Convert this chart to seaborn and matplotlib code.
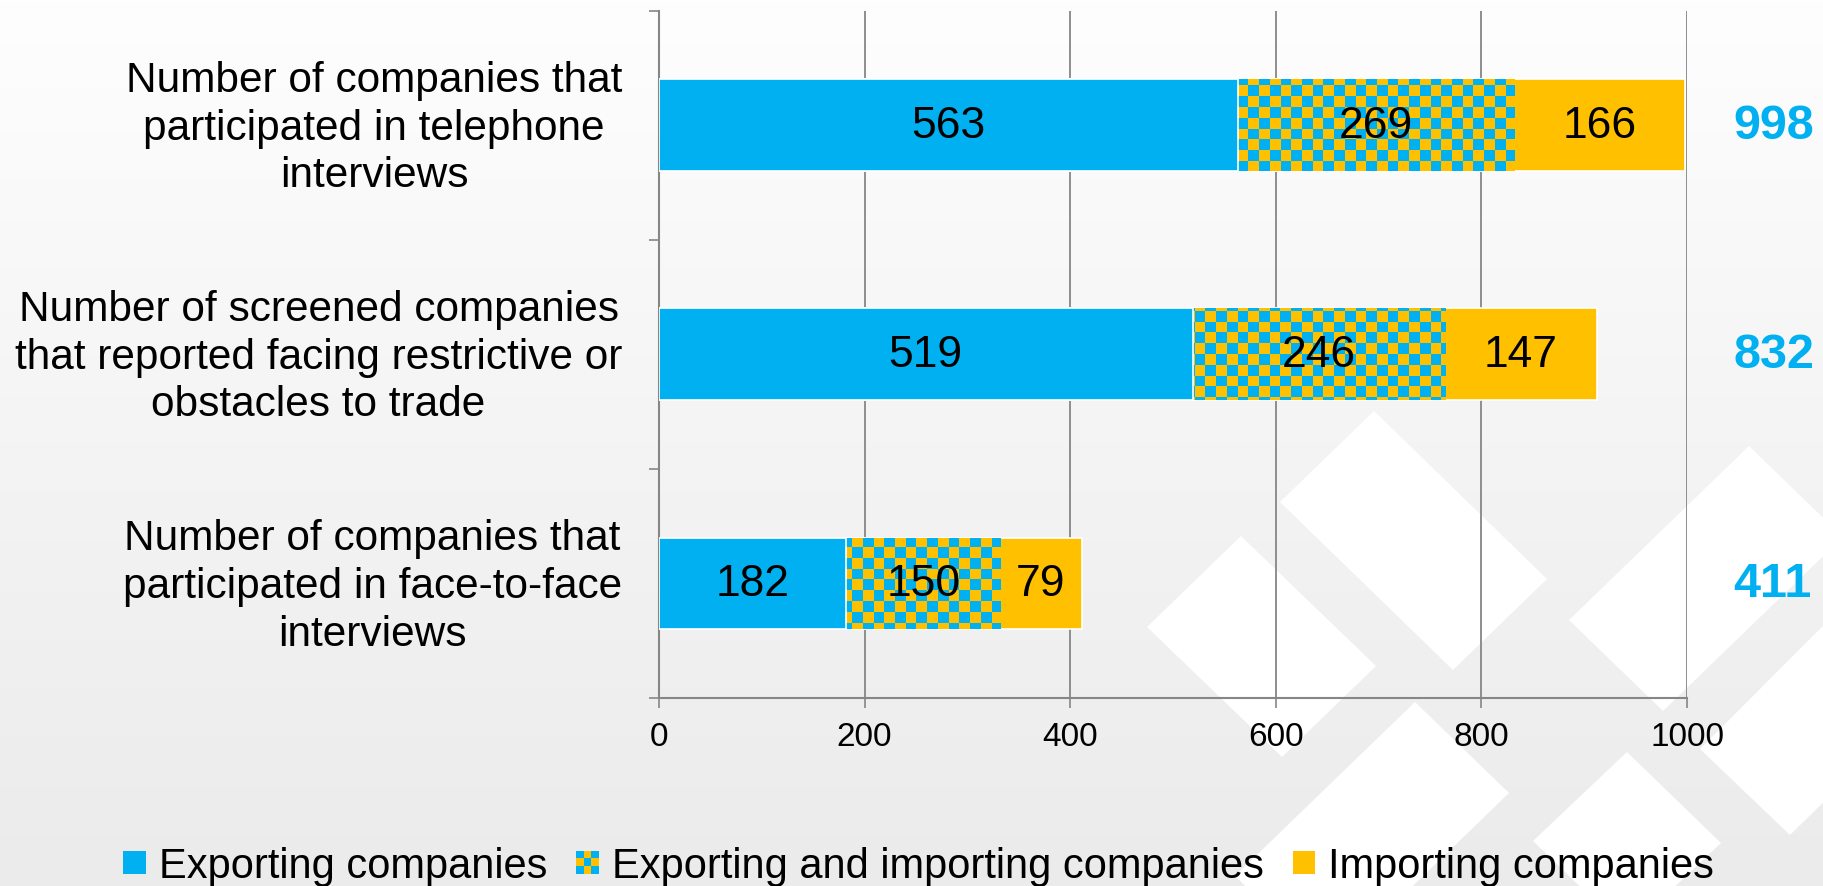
import numpy as np
import pandas as pd
import matplotlib
matplotlib.use("Agg")
import matplotlib.pyplot as plt
import seaborn as sns
from matplotlib import font_manager as fm
from matplotlib.colors import ListedColormap, LinearSegmentedColormap
from matplotlib.patches import Rectangle, Polygon
from matplotlib.legend_handler import HandlerBase
import matplotlib.transforms as mtransforms

# ---------------- data ----------------
categories = [
    "Number of companies that\nparticipated in telephone\ninterviews",
    "Number of screened companies\nthat reported facing restrictive or\nobstacles to trade",
    "Number of companies that\nparticipated in face-to-face\ninterviews",
]
exporting = [563, 519, 182]
exp_imp = [269, 246, 150]
importing = [166, 147, 79]
totals = [998, 832, 411]
series_names = ["Exporting companies", "Exporting and importing companies", "Importing companies"]
x_ticks = [0, 200, 400, 600, 800, 1000]

BLUE = "#00B0F0"
YELLOW = "#FFC000"
GRID = "#868686"

# ---------------- fonts ----------------
sns.set_style("white")
names = {f.name for f in fm.fontManager.ttflist}
REG = "Liberation Sans" if "Liberation Sans" in names else "DejaVu Sans"
NARROW = "Liberation Sans Narrow" if "Liberation Sans Narrow" in names else REG
plt.rcParams["font.family"] = [REG, "DejaVu Sans"]
plt.rcParams["text.color"] = "black"
plt.rcParams["xtick.color"] = "black"
plt.rcParams["ytick.color"] = "black"

W, H = 1823, 887
fig = plt.figure(figsize=(W / 100, H / 100), dpi=100)

# ---------------- background ----------------
bg = fig.add_axes([0, 0, 1, 1], zorder=-10)
grad = np.linspace(0, 1, 256)[:, None]
bg.imshow(grad, extent=(0, W, H, 0), aspect="auto",
          cmap=LinearSegmentedColormap.from_list("g", ["#FEFEFE", "#F4F4F4", "#EBEBEB"]))
shapes = [
    [(1374, 412), (1547, 580), (1453, 671), (1280, 503)],
    [(1241, 537), (1376, 667), (1282, 758), (1147, 628)],
    [(1749, 447), (1843, 538), (1663, 712), (1569, 621)],
    [(1415, 703), (1509, 794), (1329, 968), (1235, 877)],
    [(1627, 753), (1721, 844), (1627, 933), (1533, 842)],
    [(1880, 570), (1970, 660), (1790, 836), (1700, 750)],
]
for s in shapes:
    bg.add_patch(Polygon(s, closed=True, facecolor="white", edgecolor="none"))
bg.set_xlim(0, W)
bg.set_ylim(H, 0)
bg.axis("off")

# ---------------- main axes ----------------
L, R, T, B = 659, 1687, 11.6, 699
ax = fig.add_axes([L / W, 1 - B / H, (R - L) / W, (B - T) / H])
ax.patch.set_alpha(0)

cum1 = np.array(exporting)
cum2 = cum1 + np.array(exp_imp)
cum3 = cum2 + np.array(importing)

df = pd.DataFrame({"cat": categories, "c1": cum1, "c2": cum2, "c3": cum3})

sns.barplot(data=df, x="c3", y="cat", orient="h", color=YELLOW, saturation=1,
            width=0.4, edgecolor="white", linewidth=1.2, zorder=2, ax=ax)
n0 = len(ax.patches)
sns.barplot(data=df, x="c2", y="cat", orient="h", color=BLUE, saturation=1,
            width=0.4, edgecolor="white", linewidth=1.2, zorder=3, ax=ax)
mid_patches = ax.patches[n0:]
sns.barplot(data=df, x="c1", y="cat", orient="h", color=BLUE, saturation=1,
            width=0.4, edgecolor="white", linewidth=1.2, zorder=5, ax=ax)

ax.set_xlim(0, 1000)
ax.set_ylim(2.5, -0.5)

# checker pattern on the middle segments
nx, ny = 96, 64
checker = (np.add.outer(np.arange(ny), np.arange(nx)) % 2).astype(float)
cmap_ck = ListedColormap([BLUE, YELLOW])
for p in mid_patches:
    im = ax.imshow(checker, extent=(0, 1000, 2.5, -0.5), aspect="auto",
                   interpolation="nearest", cmap=cmap_ck, zorder=4)
    im.set_clip_path(p)
ax.set_xlim(0, 1000)
ax.set_ylim(2.5, -0.5)

# value labels
blend = mtransforms.blended_transform_factory(ax.transAxes, ax.transData)
for i in range(len(categories)):
    segs = [(0, exporting[i]), (cum1[i], exp_imp[i]), (cum2[i], importing[i])]
    for start, val in segs:
        ax.text(start + val / 2, i, str(val), ha="center", va="center",
                fontsize=32, color="black", zorder=10)
    ax.text(1.045, i, str(totals[i]), transform=blend,
            ha="left", va="center", fontsize=35, fontweight="bold", color=BLUE,
            family=[NARROW, REG], clip_on=False)

# axes styling
ax.set_xticks(x_ticks)
ax.set_xticklabels([str(t) for t in x_ticks], fontsize=24)
ax.set_xlabel("")
ax.set_ylabel("")
ax.grid(axis="x", color=GRID, linewidth=1.3)
ax.grid(axis="y", visible=False)
ax.set_axisbelow(True)
for side in ["top", "right"]:
    ax.spines[side].set_visible(False)
for side in ["left", "bottom"]:
    ax.spines[side].set_color(GRID)
    ax.spines[side].set_linewidth(1.5)
ax.tick_params(axis="x", length=7.5, width=1.2, color=GRID, labelcolor="black",
               direction="out", pad=9, bottom=True)
ax.tick_params(axis="y", which="major", length=0, pad=26.5, labelsize=30.5, labelcolor="black")
ax.set_yticks([-0.5, 0.5, 1.5, 2.5], minor=True)
ax.tick_params(axis="y", which="minor", length=7, width=1.2, color=GRID, direction="out", left=True)
up = mtransforms.ScaledTranslation(0, 6 / 100, fig.dpi_scale_trans)
for lab in ax.get_yticklabels():
    lab.set_multialignment("center")
    lab.set_linespacing(1.25)
    lab.set_color("black")
    lab.set_transform(lab.get_transform() + up)
for lab in ax.get_xticklabels():
    lab.set_color("black")


# legend with checker handle
class CheckerHandler(HandlerBase):
    def create_artists(self, legend, orig_handle, xdescent, ydescent, width, height, fontsize, trans):
        arts = []
        s = min(width, height)
        x0 = -xdescent + (width - s) / 2
        y0 = -ydescent + (height - s) / 2
        c = s / 3
        for r in range(3):
            for k in range(3):
                col = BLUE if (r + k) % 2 == 0 else YELLOW
                arts.append(Rectangle((x0 + k * c, y0 + r * c), c, c, facecolor=col,
                                      edgecolor="none", transform=trans))
        return arts


class SquareHandler(HandlerBase):
    def create_artists(self, legend, orig_handle, xdescent, ydescent, width, height, fontsize, trans):
        s = min(width, height)
        x0 = -xdescent + (width - s) / 2
        y0 = -ydescent + (height - s) / 2
        return [Rectangle((x0, y0), s, s, facecolor=orig_handle.get_facecolor(),
                          edgecolor="none", transform=trans)]


h1 = Rectangle((0, 0), 1, 1, facecolor=BLUE)
h2 = Rectangle((0, 0), 1, 1, facecolor=YELLOW)
h3 = Rectangle((0, 0), 1, 1, facecolor=YELLOW)
leg = fig.legend([h1, h2, h3], series_names, loc="center",
                 bbox_to_anchor=(918.5 / W, 1 - 867 / H), ncol=3, frameon=False,
                 fontsize=30, handlelength=0.55, handleheight=0.55, handletextpad=0.3,
                 columnspacing=0.7,
                 handler_map={h1: SquareHandler(), h2: CheckerHandler(), h3: SquareHandler()})
for t in leg.get_texts():
    t.set_color("black")

fig.savefig("out.png", dpi=100)
